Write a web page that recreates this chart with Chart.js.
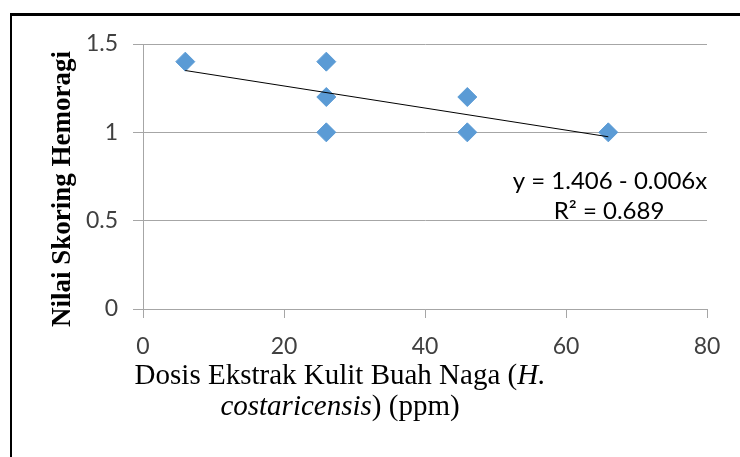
<!DOCTYPE html>
<html lang="en">
<head>
    <meta charset="UTF-8">
    <title>Nilai Skoring Hemoragi</title>
    <style>
        body { margin: 0; background: #fff; }
        #wrap { position: relative; width: 740px; height: 457px; overflow: hidden; }
        #frame { position: absolute; left: 10px; top: 13px; right: -5px; bottom: -5px;
                 border-left: 2px solid #000; border-top: 3px solid #000; pointer-events: none; }
    </style>
</head>
<body>
    <div id="wrap">
        <canvas id="myChart" width="740" height="457"></canvas>
        <div id="frame"></div>
    </div>
</body>
<script src="https://cdn.jsdelivr.net/npm/chart.js@4.4.1/dist/chart.umd.min.js"></script>
<script>
    // data
    var dosis = [6, 26, 26, 26, 46, 46, 66];
    var skor = [1.4, 1.4, 1.2, 1.0, 1.2, 1.0, 1.0];
    var trendX = [6, 66];
    var trendY = [1.35, 0.975];
    var xTicks = [0, 20, 40, 60, 80];
    var yTicks = [0, 0.5, 1, 1.5];
    var yTickLabels = ['0', '0.5', '1', '1.5'];
    var persamaan = "y = 1.406 - 0.006x";
    var r2 = "R\u00b2 = 0.689";

    var abu = '#a6a6a6';
    var teksTick = '#404040';

    var titlePlugin = {
        id: 'judul',
        afterDraw: function(chart) {
            var ctx = chart.ctx;
            ctx.save();
            ctx.fillStyle = '#000';

            // y title
            ctx.save();
            ctx.translate(63, 189);
            ctx.rotate(-Math.PI / 2);
            ctx.font = 'bold 27px "Liberation Serif"';
            ctx.textAlign = 'center';
            ctx.textBaseline = 'middle';
            ctx.fillText('Nilai Skoring Hemoragi', 0, 0);
            ctx.restore();

            // x title, mixed roman / italic
            var reg = '29px "Liberation Serif"';
            var ita = 'italic 29px "Liberation Serif"';
            var baris = [
                [['Dosis Ekstrak Kulit Buah Naga (', reg], ['H.', ita]],
                [['costaricensis', ita], [') (ppm)', reg]]
            ];
            var ys = [384, 415];
            ctx.textBaseline = 'alphabetic';
            ctx.textAlign = 'left';
            baris.forEach(function(b, i) {
                var w = 0;
                b.forEach(function(p) { ctx.font = p[1]; w += ctx.measureText(p[0]).width; });
                var x = 340 - w / 2;
                b.forEach(function(p) {
                    ctx.font = p[1];
                    ctx.fillText(p[0], x, ys[i]);
                    x += ctx.measureText(p[0]).width;
                });
            });

            // trendline equation
            ctx.font = '24px Lato';
            ctx.textAlign = 'center';
            ctx.fillText(persamaan, 610, 189);
            ctx.fillText(r2, 609, 219);
            ctx.restore();
        }
    };

    var ctx = document.getElementById('myChart').getContext('2d');
    var myChart = new Chart(ctx, {
        type: 'scatter',
        data: {
            datasets: [{
                type: 'line',
                data: trendX.map(function(x, i) { return { x: x, y: trendY[i] }; }),
                borderColor: '#000',
                borderWidth: 1,
                pointRadius: 0,
                fill: false,
                order: 0
            }, {
                data: dosis.map(function(x, i) { return { x: x, y: skor[i] }; }),
                pointStyle: 'rectRot',
                pointRadius: 9.5,
                backgroundColor: '#5b9bd5',
                borderColor: '#5b9bd5',
                borderWidth: 1,
                order: 1
            }]
        },
        options: {
            responsive: false,
            animation: false,
            devicePixelRatio: 1,
            layout: { padding: { left: 0, top: 44, right: 33, bottom: 0 } },
            plugins: { legend: { display: false }, tooltip: { enabled: false } },
            scales: {
                x: {
                    type: 'linear', min: 0, max: 80,
                    afterBuildTicks: function(s) { s.ticks = xTicks.map(function(v) { return { value: v }; }); },
                    afterFit: function(s) { s.height = 148; },
                    grid: { drawOnChartArea: false, color: abu, tickLength: 9 },
                    border: { color: abu },
                    ticks: { color: teksTick, font: { family: 'Lato', size: 23 }, padding: 15, maxRotation: 0 }
                },
                y: {
                    min: 0, max: 1.5,
                    afterBuildTicks: function(s) { s.ticks = yTicks.map(function(v) { return { value: v }; }); },
                    afterFit: function(s) { s.width = 143; },
                    grid: { color: abu, tickLength: 10 },
                    border: { color: abu },
                    ticks: {
                        color: teksTick, font: { family: 'Lato', size: 23 }, padding: 15,
                        callback: function(v) { return yTickLabels[yTicks.indexOf(v)]; }
                    }
                }
            }
        },
        plugins: [titlePlugin]
    });
</script>
</html>
